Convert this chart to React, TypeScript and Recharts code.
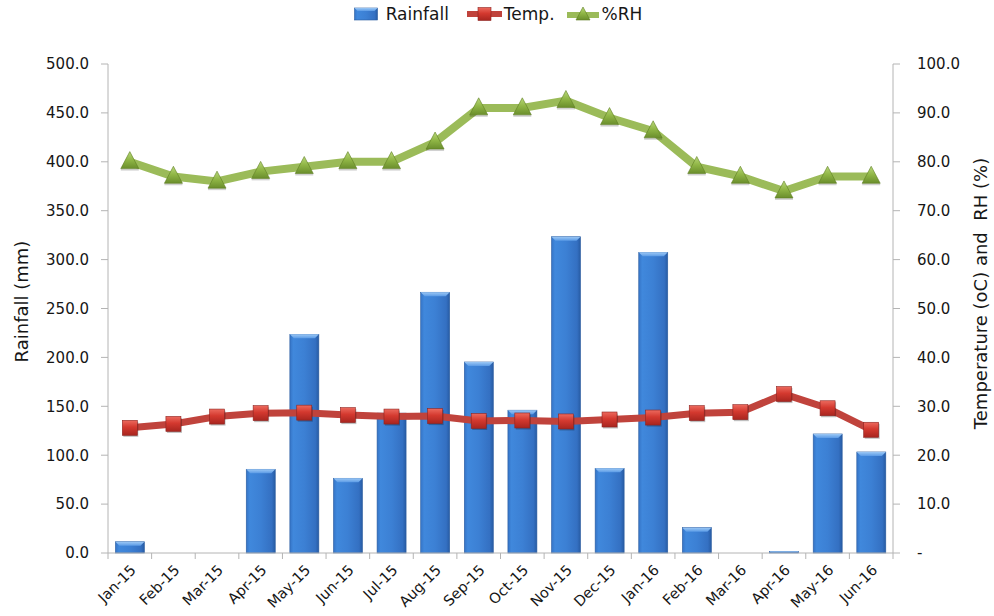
import React from 'react';
import { ComposedChart, Bar, Line, XAxis, YAxis, Legend } from 'recharts';

const months = ['Jan-15', 'Feb-15', 'Mar-15', 'Apr-15', 'May-15', 'Jun-15', 'Jul-15', 'Aug-15', 'Sep-15', 'Oct-15', 'Nov-15', 'Dec-15', 'Jan-16', 'Feb-16', 'Mar-16', 'Apr-16', 'May-16', 'Jun-16'];
const rainfall = [11.5, 0, 0, 85.6, 223.6, 76.4, 143, 266.6, 195.3, 146, 323.4, 86.6, 307.4, 25.9, 0, 1.7, 121.7, 103.3];
const temperature = [25.6, 26.4, 27.9, 28.6, 28.7, 28.2, 27.9, 28.0, 27.0, 27.1, 26.9, 27.3, 27.7, 28.6, 28.8, 32.5, 29.6, 25.2];
const humidity = [80, 77, 76, 78, 79, 80, 80, 84, 91, 91, 92.5, 89, 86.3, 79, 77, 74, 77, 77];
const leftTicks = [0, 50, 100, 150, 200, 250, 300, 350, 400, 450, 500];
const rightTicks = [0, 10, 20, 30, 40, 50, 60, 70, 80, 90, 100];

const data = months.map((m, i) => ({ month: m, rainfall: rainfall[i], temp: temperature[i], rh: humidity[i] }));

const W = 994;
const H = 616;
const LEFT_W = 108;
const RIGHT_W = 101;
const BAND = (W - LEFT_W - RIGHT_W) / months.length;
const FONT = '"DejaVu Sans", Verdana, sans-serif';
const TEXT = '#161616';
const AXIS = '#b4b4b4';

const BarShape = (props: any) => {
  const { x, y, width, height } = props;
  if (!height || height <= 0) return null;
  const b = Math.min(4, height / 2);
  return (
    <g>
      <rect x={x} y={y} width={width} height={height} fill="url(#barBody)" stroke="#2b5c9f" strokeWidth={0.6} />
      <polygon points={`${x},${y} ${x + width},${y} ${x + width - b},${y + b} ${x + b},${y + b}`} fill="url(#barTop)" />
    </g>
  );
};

const SquareDot = (props: any) => {
  const { cx, cy } = props;
  if (cx == null || cy == null) return null;
  const s = 15;
  return (
    <g>
      <rect x={cx - s / 2 + 1} y={cy - s / 2 + 1.5} width={s} height={s} fill="rgba(0,0,0,0.25)" />
      <rect x={cx - s / 2} y={cy - s / 2} width={s} height={s} fill="url(#redDot)" stroke="#8e2420" strokeWidth={0.6} />
    </g>
  );
};

const TriDot = (props: any) => {
  const { cx, cy } = props;
  if (cx == null || cy == null) return null;
  const w = 18;
  const h = 17;
  const pts = `${cx},${cy - h * 0.6} ${cx + w / 2},${cy + h * 0.4} ${cx - w / 2},${cy + h * 0.4}`;
  return (
    <g>
      <rect x={cx - w / 2} y={cy + h * 0.4} width={w} height={2} fill="rgba(0,0,0,0.18)" />
      <polygon points={pts} fill="url(#greenDot)" stroke="#5e7d22" strokeWidth={0.6} />
    </g>
  );
};

const XTick = (props: any) => {
  const { x, y, payload, index, visibleTicksCount } = props;
  const ax = x + 7;
  const ay = y + 18;
  return (
    <g>
      <line x1={x - BAND / 2} x2={x - BAND / 2} y1={y} y2={y + 6} stroke={AXIS} />
      {index === visibleTicksCount - 1 && (
        <line x1={x + BAND / 2} x2={x + BAND / 2} y1={y} y2={y + 6} stroke={AXIS} />
      )}
      <text x={ax} y={ay} textAnchor="end" transform={`rotate(-45, ${ax}, ${ay})`} fontSize={14.5} fontFamily={FONT} fill={TEXT}>
        {payload.value}
      </text>
    </g>
  );
};

const LeftLabel = (props: any) => {
  const vb = props.viewBox || {};
  const cx = (vb.x || 0) + 21;
  const cy = (vb.y || 0) + (vb.height || 0) / 2 - 7;
  return (
    <text x={cx} y={cy} textAnchor="middle" dominantBaseline="central" transform={`rotate(-90, ${cx}, ${cy})`} fontSize={18} fontFamily={FONT} fill={TEXT}>
      Rainfall (mm)
    </text>
  );
};

const RightLabel = (props: any) => {
  const vb = props.viewBox || {};
  const cx = (vb.x || 0) + 87;
  const cy = (vb.y || 0) + (vb.height || 0) / 2 - 15;
  return (
    <text x={cx} y={cy} textAnchor="middle" dominantBaseline="central" transform={`rotate(-90, ${cx}, ${cy})`} fontSize={18} fontFamily={FONT} fill={TEXT} style={{ whiteSpace: 'pre' }}>
      {'Temperature (oC) and  RH (%)'}
    </text>
  );
};

const LegendContent = () => (
  <div style={{ display: 'flex', justifyContent: 'center', alignItems: 'center', fontFamily: FONT, fontSize: 17, color: TEXT, height: 28, paddingLeft: 2 }}>
    <svg width={24} height={14} style={{ marginRight: 8 }}>
      <rect x={0.5} y={1} width={23} height={12} fill="url(#barBody)" stroke="#2b5c9f" strokeWidth={0.6} />
      <polygon points="0.5,1 23.5,1 20.5,4 3.5,4" fill="url(#barTop)" />
    </svg>
    <span style={{ marginRight: 18 }}>Rainfall</span>
    <svg width={35} height={16} style={{ marginRight: 2 }}>
      <line x1={0} x2={35} y1={8} y2={8} stroke="#c0433c" strokeWidth={6} />
      <rect x={11} y={1.5} width={13} height={13} fill="url(#redDot)" stroke="#8e2420" strokeWidth={0.6} />
    </svg>
    <span style={{ marginRight: 12 }}>Temp.</span>
    <svg width={32} height={16} style={{ marginRight: 3 }}>
      <line x1={0} x2={32} y1={9} y2={9} stroke="#9bbb59" strokeWidth={6} />
      <polygon points="16,1 23,14 9,14" fill="url(#greenDot)" stroke="#5e7d22" strokeWidth={0.6} />
    </svg>
    <span>%RH</span>
  </div>
);

export default function App() {
  return (
    <div style={{ position: 'absolute', left: 0, top: 0, width: W, height: H, background: '#fff' }}>
      <svg width={0} height={0} style={{ position: 'absolute' }}>
        <defs>
          <linearGradient id="barBody" x1="0" y1="0" x2="1" y2="0">
            <stop offset="0%" stopColor="#3574c6" />
            <stop offset="12%" stopColor="#4088dc" />
            <stop offset="50%" stopColor="#3c80d4" />
            <stop offset="88%" stopColor="#3470c2" />
            <stop offset="100%" stopColor="#275ba3" />
          </linearGradient>
          <linearGradient id="barTop" x1="0" y1="0" x2="0" y2="1">
            <stop offset="0%" stopColor="#9cc8f5" />
            <stop offset="100%" stopColor="#5b9be6" />
          </linearGradient>
          <linearGradient id="redDot" x1="0" y1="0" x2="0" y2="1">
            <stop offset="0%" stopColor="#ec6a5e" />
            <stop offset="45%" stopColor="#d4392f" />
            <stop offset="100%" stopColor="#a8251f" />
          </linearGradient>
          <linearGradient id="greenDot" x1="0" y1="0" x2="0" y2="1">
            <stop offset="0%" stopColor="#b9d87a" />
            <stop offset="50%" stopColor="#8fb545" />
            <stop offset="100%" stopColor="#6a8e2c" />
          </linearGradient>
        </defs>
      </svg>
      <ComposedChart width={W} height={H} data={data} margin={{ top: 36, right: 0, bottom: 0, left: 0 }} barCategoryGap="17%">
        <Legend verticalAlign="top" align="center" content={<LegendContent />} wrapperStyle={{ top: 0, left: 0, width: W, height: 28 }} />
        <XAxis dataKey="month" interval={0} height={63} tickLine={false} tickSize={0} tickMargin={0} axisLine={{ stroke: AXIS }} tick={<XTick />} />
        <YAxis
          yAxisId="left"
          orientation="left"
          width={LEFT_W}
          domain={[0, 500]}
          ticks={leftTicks}
          interval={0}
          tickSize={7}
          tickMargin={12}
          axisLine={{ stroke: AXIS }}
          tickLine={{ stroke: AXIS }}
          tick={{ fontSize: 15, fontFamily: FONT, fill: TEXT }}
          tickFormatter={(v: number) => v.toFixed(1)}
          label={<LeftLabel />}
        />
        <YAxis
          yAxisId="right"
          orientation="right"
          width={RIGHT_W}
          domain={[0, 100]}
          ticks={rightTicks}
          interval={0}
          tickSize={7}
          tickMargin={17}
          axisLine={{ stroke: AXIS }}
          tickLine={{ stroke: AXIS }}
          tick={{ fontSize: 15, fontFamily: FONT, fill: TEXT, textAnchor: 'start' }}
          tickFormatter={(v: number) => (v === 0 ? '-' : v.toFixed(1))}
          label={<RightLabel />}
        />
        <Bar yAxisId="left" dataKey="rainfall" name="Rainfall" shape={<BarShape />} isAnimationActive={false} />
        <Line yAxisId="right" dataKey="temp" name="Temp." stroke="#c0433c" strokeWidth={7} dot={<SquareDot />} activeDot={false} isAnimationActive={false} />
        <Line yAxisId="right" dataKey="rh" name="%RH" stroke="#9bbb59" strokeWidth={8} dot={<TriDot />} activeDot={false} isAnimationActive={false} />
      </ComposedChart>
    </div>
  );
}
